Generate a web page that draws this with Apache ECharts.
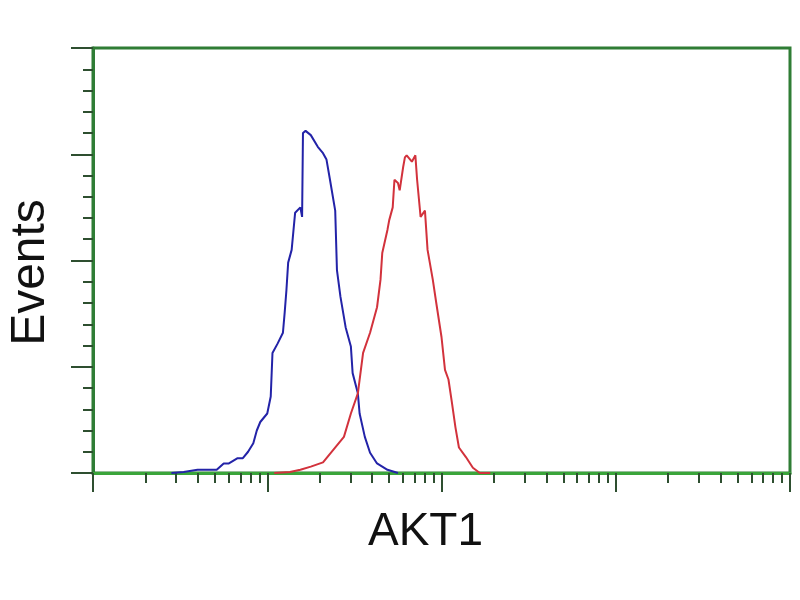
<!DOCTYPE html>
<html>
<head>
<meta charset="utf-8">
<script src="https://cdn.jsdelivr.net/npm/echarts@6/dist/echarts.min.js"></script>
<style>
  html, body { margin: 0; padding: 0; background: #ffffff; }
  #chart { width: 800px; height: 600px; }
</style>
</head>
<body>
<div id="chart"></div>
<script>
// log10 fluorescence intensity (AKT1 channel) and event counts
const blueLogX = [0.45,0.52,0.60,0.69,0.71,0.75,0.78,0.83,0.86,0.89,0.92,0.94,0.96,1.00,1.02,1.03,1.06,1.09,1.10,1.11,1.12,1.14,1.16,1.19,1.20,1.205,1.22,1.25,1.29,1.32,1.34,1.36,1.39,1.40,1.42,1.45,1.48,1.49,1.52,1.53,1.56,1.59,1.63,1.69,1.75];
const blueCounts = [0,1,3,3,3,9,9,14,14,20,28,40,48,56,72,113,122,132,151,172,198,210,245,250,241,320,322,318,307,301,295,276,247,191,166,137,119,94,75,56,34,19,9,3,0];

const redLogX = [1.04,1.13,1.19,1.25,1.32,1.38,1.44,1.48,1.52,1.55,1.59,1.63,1.65,1.66,1.69,1.70,1.72,1.73,1.75,1.76,1.78,1.79,1.80,1.83,1.85,1.86,1.88,1.905,1.92,1.95,1.97,2.00,2.02,2.04,2.06,2.08,2.10,2.14,2.18,2.22,2.28];
const redCounts = [0,1,3,6,10,22,34,56,75,113,132,156,182,207,229,238,250,276,273,266,288,297,299,293,299,276,241,247,210,182,160,128,97,88,66,43,24,15,5,0,0];

// axis ticks: decades 10^0 .. 10^4 (log scale), y counts 0..400
const xMajorTicks = [0, 1, 2, 3, 4];
const xMinorMultipliers = [2, 3, 4, 5, 6, 7, 8, 9];
const yTicks = [0, 100, 200, 300, 400];

const xMinorTicks = [];
for (let d = 0; d < 4; d++) {
  for (const k of xMinorMultipliers) xMinorTicks.push(d + Math.log10(k));
}

function pairs(xs, ys) { return xs.map((x, i) => [x, ys[i]]); }

const boxGreen = '#2f7d35';
const axisGreen = '#3aa53a';
const tickColor = '#2e4f30';
const font = 'Liberation Sans, Arial, Helvetica, sans-serif';

const chart = echarts.init(document.getElementById('chart'), null, { renderer: 'canvas' });
chart.setOption({
  animation: false,
  backgroundColor: '#ffffff',
  grid: {
    left: 93, right: 10, top: 48, bottom: 127,
    outerBoundsMode: 'none', containLabel: false,
    show: true, borderColor: boxGreen, borderWidth: 3, backgroundColor: 'transparent'
  },
  xAxis: [
    {
      type: 'value', min: 0, max: 4, position: 'bottom',
      name: 'AKT1', nameLocation: 'middle', nameGap: 36,
      nameTextStyle: { fontSize: 46, color: '#111', fontFamily: font, padding: [0, 32, 0, 0] },
      axisLine: { show: true, lineStyle: { color: axisGreen, width: 3 } },
      axisTick: { show: true, inside: false, length: 19, customValues: xMajorTicks, lineStyle: { color: tickColor, width: 2 } },
      axisLabel: { show: false },
      splitLine: { show: false }
    },
    {
      type: 'value', min: 0, max: 4, position: 'bottom', gridIndex: 0,
      axisLine: { show: false },
      axisTick: { show: true, inside: false, length: 10, customValues: xMinorTicks, lineStyle: { color: tickColor, width: 2 } },
      axisLabel: { show: false },
      splitLine: { show: false }
    }
  ],
  yAxis: {
    type: 'value', min: yTicks[0], max: yTicks[yTicks.length - 1], interval: 100,
    name: 'Events', nameLocation: 'middle', nameGap: 38, nameRotate: 90,
    nameTextStyle: { fontSize: 48, color: '#111', fontFamily: font, padding: [0, 24, 0, 0] },
    axisLine: { show: true, lineStyle: { color: boxGreen, width: 3 } },
    axisTick: { show: true, inside: false, length: 22, lineStyle: { color: tickColor, width: 2 } },
    minorTick: { show: true, splitNumber: 5, length: 10, lineStyle: { color: tickColor, width: 2 } },
    axisLabel: { show: false },
    splitLine: { show: false },
    minorSplitLine: { show: false }
  },
  series: [
    {
      name: 'Control', type: 'line', xAxisIndex: 0, showSymbol: false, smooth: false,
      data: pairs(blueLogX, blueCounts),
      lineStyle: { color: '#2323a8', width: 2 }, z: 3
    },
    {
      name: 'AKT1', type: 'line', xAxisIndex: 0, showSymbol: false, smooth: false,
      data: pairs(redLogX, redCounts),
      lineStyle: { color: '#d2323c', width: 2 }, z: 3
    }
  ]
});
</script>
</body>
</html>
